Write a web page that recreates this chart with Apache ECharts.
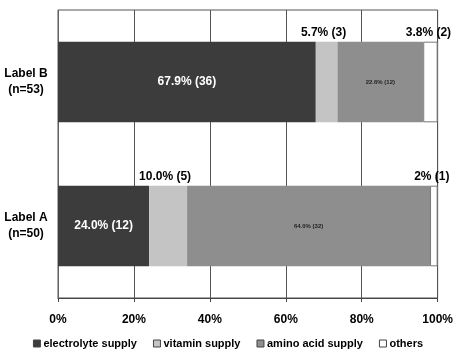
<!DOCTYPE html>
<html>
<head>
<meta charset="utf-8">
<script src="https://cdn.jsdelivr.net/npm/echarts@6/dist/echarts.min.js"></script>
<style>
    html, body { margin: 0; padding: 0; background: #fff; }
    #chart { width: 456px; height: 354px; }
</style>
</head>
<body>
<div id="chart"></div>
<script>
// categories, bottom to top
const categories = ['Label A\n(n=50)', 'Label B\n(n=53)']
const seriesNames = ['electrolyte supply', 'vitamin supply', 'amino acid supply', 'others']
// percent values per series, [Label A, Label B]
const electrolyte = [24.0, 67.9]
const vitamin = [10.0, 5.7]
const aminoAcid = [64.0, 22.6]
const others = [2.0, 3.8]
// counts per series
const electrolyteN = [12, 36]
const vitaminN = [5, 3]
const aminoAcidN = [32, 12]
const othersN = [1, 2]
const percentLabels = {
    vitamin: ['10.0%', '5.7%'],
    others: ['2%', '3.8%'],
}
const xTicks = [0, 20, 40, 60, 80, 100]

const FONT = "'Liberation Sans Narrow', 'Liberation Sans', Arial, sans-serif"
const COLORS = ['#3c3c3c', '#c4c4c4', '#8e8e8e', '#ffffff']

const chart = echarts.init(document.getElementById('chart'))

const base = {
    type: 'bar',
    stack: 'total',
    barWidth: '56%',
}

const option = {
    animation: false,
    textStyle: { fontFamily: FONT, fontWeight: 'bold', color: '#000' },
    grid: { left: 58, right: 16, top: 10, bottom: 56, show: true, borderColor: '#555', borderWidth: 1 },
    legend: {
        bottom: 0,
        left: 'center',
        itemWidth: 7,
        itemHeight: 7,
        itemGap: 16,
        icon: 'rect',
        textStyle: { fontFamily: FONT, fontWeight: 'bold', fontSize: 11, color: '#000', padding: [0, 0, 0, -2] },
        data: seriesNames.map((name, i) => ({
            name,
            itemStyle: { color: COLORS[i], borderColor: '#444', borderWidth: 1 },
        })),
    },
    xAxis: {
        type: 'value',
        min: 0,
        max: 100,
        interval: 20,
        axisLine: { show: true, lineStyle: { color: '#444' } },
        axisTick: { show: true, length: 4, lineStyle: { color: '#444' } },
        axisLabel: {
            margin: 16,
            fontSize: 12,
            fontWeight: 'bold',
            fontFamily: FONT,
            color: '#000',
            formatter: (v) => (xTicks.includes(v) ? v + '%' : ''),
        },
        splitLine: { show: true, lineStyle: { color: '#555', width: 1 } },
    },
    yAxis: {
        type: 'category',
        data: categories,
        axisLine: { show: true, lineStyle: { color: '#666', type: 'dotted' } },
        axisTick: { show: false },
        axisLabel: {
            fontSize: 12,
            fontWeight: 'bold',
            fontFamily: FONT,
            color: '#000',
            align: 'center',
            margin: 32,
            lineHeight: 16,
        },
    },
    series: [
        {
            ...base,
            name: seriesNames[0],
            data: electrolyte,
            itemStyle: { color: COLORS[0] },
            label: {
                show: true,
                position: 'inside',
                color: '#fff',
                fontSize: 12,
                fontWeight: 'bold',
                fontFamily: FONT,
                formatter: (p) => p.value.toFixed(1) + '% (' + electrolyteN[p.dataIndex] + ')',
            },
        },
        {
            ...base,
            name: seriesNames[1],
            data: vitamin,
            itemStyle: { color: COLORS[1] },
            label: {
                show: true,
                position: 'top',
                distance: 3,
                offset: [-3, 0],
                color: '#000',
                fontSize: 12,
                fontWeight: 'bold',
                fontFamily: FONT,
                formatter: (p) => percentLabels.vitamin[p.dataIndex] + ' (' + vitaminN[p.dataIndex] + ')',
            },
        },
        {
            ...base,
            name: seriesNames[2],
            data: aminoAcid,
            itemStyle: { color: COLORS[2] },
            label: {
                show: true,
                position: 'inside',
                color: '#222',
                fontSize: 6,
                fontWeight: 'bold',
                fontFamily: FONT,
                formatter: (p) => p.value.toFixed(1) + '% (' + aminoAcidN[p.dataIndex] + ')',
            },
        },
        {
            ...base,
            name: seriesNames[3],
            data: others,
            itemStyle: { color: COLORS[3], borderColor: '#777', borderWidth: 1 },
            label: {
                show: true,
                position: 'top',
                distance: 3,
                offset: [-2, 0],
                color: '#000',
                fontSize: 12,
                fontWeight: 'bold',
                fontFamily: FONT,
                formatter: (p) => percentLabels.others[p.dataIndex] + ' (' + othersN[p.dataIndex] + ')',
            },
        },
    ],
}

chart.setOption(option)
</script>
</body>
</html>
